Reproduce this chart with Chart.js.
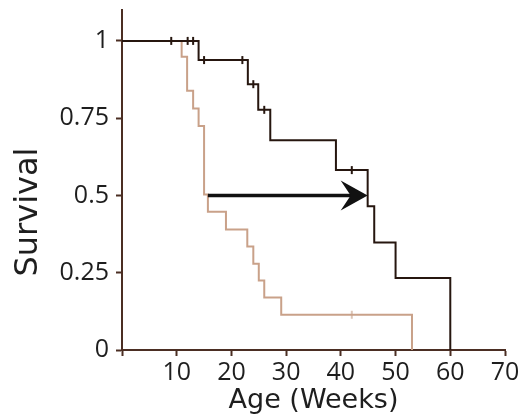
<!DOCTYPE html>
<html lang="en">
  <head>
    <meta charset="UTF-8">
    <title>Survival</title>
    <script src="https://cdn.jsdelivr.net/npm/chart.js@4.4.0/dist/chart.umd.min.js"></script>
    <style>
      html, body { margin: 0; padding: 0; background: #fff; }
      #wrap { width: 525px; height: 419px; }
    </style>
  </head>
  <body>
    <div id="wrap"><canvas id="survival_chart" width="525" height="419"></canvas></div>
    <script>
      // week of each drop and the survival value after it
      const darkWeeks = [0, 14.0, 23.0, 24.9, 27.1, 39.1, 44.9, 46.1, 50.0, 60.0];
      const darkSurvival = [1, 0.938, 0.860, 0.777, 0.679, 0.582, 0.465, 0.348, 0.233, 0];
      const lightWeeks = [0, 10.9, 11.9, 13.0, 14.0, 15.0, 15.7, 19.0, 22.9, 24.0, 25.0, 26.0, 29.1, 53.0];
      const lightSurvival = [1, 0.949, 0.839, 0.781, 0.725, 0.503, 0.447, 0.390, 0.335, 0.279, 0.225, 0.170, 0.114, 0];
      // censored animals (tick marks)
      const darkCensorWeeks = [9, 12, 13, 15, 22, 24, 26, 42];
      const darkCensorSurvival = [1, 1, 1, 0.938, 0.938, 0.860, 0.777, 0.582];
      const lightCensorWeeks = [42];
      const lightCensorSurvival = [0.114];
      // median shift arrow
      const arrowWeeks = [15.7, 44.9];
      const arrowSurvival = 0.5;
      const xTicks = [0, 10, 20, 30, 40, 50, 60, 70];
      const yTicks = [0, 0.25, 0.5, 0.75, 1];

      const axisColor = '#4b2e23';
      const textColor = '#1e1e1e';

      const toPoints = (xs, ys) => xs.map((x, i) => ({x: x, y: ys[i]}));

      const arrowPlugin = {
        id: 'arrow',
        afterDatasetsDraw(chart) {
          const ctx = chart.ctx;
          const xs = chart.scales.x;
          const ys = chart.scales.y;
          const x0 = xs.getPixelForValue(arrowWeeks[0]);
          const x1 = xs.getPixelForValue(arrowWeeks[1]);
          const y = ys.getPixelForValue(arrowSurvival);
          ctx.save();
          ctx.strokeStyle = '#111';
          ctx.fillStyle = '#111';
          ctx.lineWidth = 3.5;
          ctx.beginPath();
          ctx.moveTo(x0, y);
          ctx.lineTo(x1 - 14, y);
          ctx.stroke();
          ctx.beginPath();
          ctx.moveTo(x1, y);
          ctx.lineTo(x1 - 27, y - 15);
          ctx.lineTo(x1 - 17, y);
          ctx.lineTo(x1 - 27, y + 15);
          ctx.closePath();
          ctx.fill();
          ctx.restore();
        }
      };

      const yTitlePlugin = {
        id: 'yTitle',
        afterDraw(chart) {
          const ctx = chart.ctx;
          ctx.save();
          ctx.translate(37, 212);
          ctx.rotate(-Math.PI / 2);
          ctx.font = '32px "DejaVu Sans"';
          ctx.fillStyle = textColor;
          ctx.textAlign = 'center';
          ctx.textBaseline = 'alphabetic';
          ctx.fillText('Survival', 0, 0);
          ctx.restore();
        }
      };

      window.onload = function () {
        const ctx = document.getElementById('survival_chart').getContext('2d');
        new Chart(ctx, {
          type: 'line',
          data: {
            datasets: [
              {
                data: toPoints(darkWeeks, darkSurvival),
                borderColor: '#26160f',
                borderWidth: 2,
                stepped: true,
                pointRadius: 0,
                fill: false
              },
              {
                data: toPoints(darkCensorWeeks, darkCensorSurvival),
                showLine: false,
                pointStyle: 'line',
                rotation: 90,
                pointRadius: 4,
                borderColor: '#26160f',
                borderWidth: 2
              },
              {
                data: toPoints(lightWeeks, lightSurvival),
                borderColor: '#c9a189',
                borderWidth: 2,
                stepped: true,
                pointRadius: 0,
                fill: false
              },
              {
                data: toPoints(lightCensorWeeks, lightCensorSurvival),
                showLine: false,
                pointStyle: 'line',
                rotation: 90,
                pointRadius: 4,
                borderColor: '#dcc6b8',
                borderWidth: 2
              }
            ]
          },
          options: {
            responsive: false,
            animation: false,
            layout: {
              padding: { left: 0, right: 20, top: 10, bottom: 0 }
            },
            plugins: {
              legend: { display: false },
              tooltip: { enabled: false }
            },
            scales: {
              x: {
                type: 'linear',
                min: 0,
                max: 70,
                afterBuildTicks: (scale) => { scale.ticks = xTicks.map(v => ({value: v})); },
                afterFit: (scale) => { scale.height = 69; },
                grid: {
                  drawOnChartArea: false,
                  drawTicks: true,
                  tickLength: 6,
                  tickWidth: 2,
                  color: axisColor
                },
                border: { color: axisColor, width: 2 },
                ticks: {
                  padding: 2,
                  maxRotation: 0,
                  color: textColor,
                  font: { family: '"Open Sans"', size: 25 },
                  callback: (v) => v === 0 ? '' : String(v)
                },
                title: {
                  display: true,
                  text: 'Age (Weeks)',
                  color: textColor,
                  font: { family: '"DejaVu Sans"', size: 27 },
                  padding: { top: 0, bottom: 2 }
                }
              },
              y: {
                type: 'linear',
                min: 0,
                max: 1.1,
                afterBuildTicks: (scale) => { scale.ticks = yTicks.map(v => ({value: v})); },
                afterFit: (scale) => {
                  scale.width = 122;
                  scale.paddingTop = 0;
                  scale.paddingBottom = 0;
                },
                grid: {
                  drawOnChartArea: false,
                  drawTicks: true,
                  tickLength: 6,
                  tickWidth: 2,
                  color: axisColor
                },
                border: { color: axisColor, width: 2 },
                ticks: {
                  padding: 7,
                  color: textColor,
                  font: { family: '"Open Sans"', size: 25 },
                  callback: (v) => String(v)
                }
              }
            }
          },
          plugins: [arrowPlugin, yTitlePlugin]
        });
      };
    </script>
  </body>
</html>
